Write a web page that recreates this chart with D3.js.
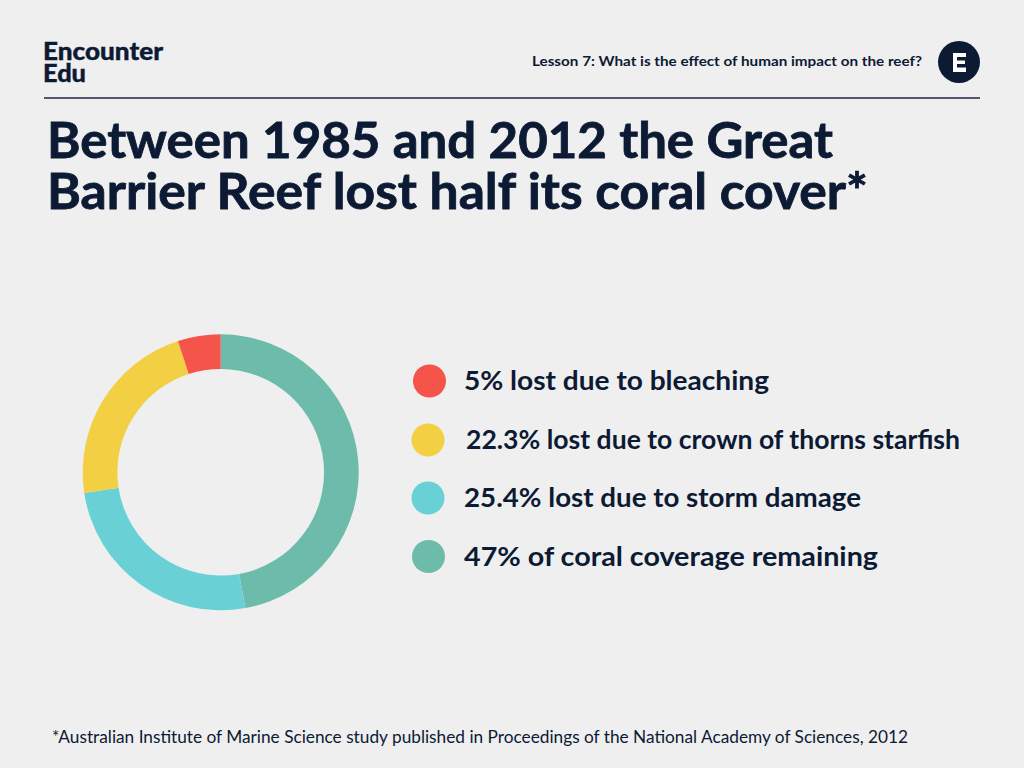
<!DOCTYPE html>
<html><head><meta charset="utf-8">
<script src="https://cdn.jsdelivr.net/npm/d3@7"></script>
<style>html,body{margin:0;padding:0;background:#efefef}svg{display:block}text{font-family:Lato,sans-serif;fill:#0c1a34}</style>
</head><body><svg id="c" width="1024" height="768"></svg>
<script>
const categories=["47% of coral coverage remaining","25.4% lost due to storm damage","22.3% lost due to crown of thorns starfish","5% lost due to bleaching"];
const values=[47,25.4,22.3,5];
const colors=["#6dbcab","#69d1d6","#f3d043","#f5544a"];
const legendOrder=[3,2,1,0];
const legendDotX=[429.5,428,428,428.5];
const legendDotY=[381,440,498,556.5];
const legendTextX=[464,466,464,464];
const legendTextW=[305,494,397,414];
const titleLines=["Between 1985 and 2012 the Great","Barrier Reef lost half its coral cover*"];
const titleWidths=[786,821];
const logoLines=["Encounter","Edu"];
const logoWidths=[120,43];
const subtitle="Lesson 7: What is the effect of human impact on the reef?";
const footnote="*Australian Institute of Marine Science study published in Proceedings of the National Academy of Sciences, 2012";
const navy="#0c1a34";
const svg=d3.select("#c");
svg.append("rect").attr("width",1024).attr("height",768).attr("fill","#efefef");

// header
svg.append("text").attr("font-size",25).attr("font-weight",900).attr("stroke",navy).attr("stroke-width",0.4)
  .selectAll("tspan").data(logoLines).join("tspan")
  .attr("x",43).attr("y",(d,i)=>60+i*22).attr("textLength",(d,i)=>logoWidths[i]).attr("lengthAdjust","spacingAndGlyphs").text(d=>d);
svg.append("text").attr("x",532).attr("y",66).attr("font-size",14).attr("font-weight",700).attr("textLength",390).attr("lengthAdjust","spacingAndGlyphs").text(subtitle);
svg.append("circle").attr("cx",959).attr("cy",62).attr("r",21).attr("fill",navy);
svg.append("path").attr("fill","#fff").attr("d","M953,53H966V57H957V60.5H965V64H957V67.5H966V72H953Z");
svg.append("line").attr("x1",44).attr("x2",980).attr("y1",98).attr("y2",98).attr("stroke","#1c2645").attr("stroke-width",1.5);

// title
svg.append("text").attr("font-size",49).attr("font-weight",700).attr("stroke",navy).attr("stroke-width",0.8)
  .selectAll("tspan").data(titleLines).join("tspan")
  .attr("x",47).attr("y",(d,i)=>158+i*51)
  .attr("textLength",(d,i)=>titleWidths[i]).attr("lengthAdjust","spacingAndGlyphs").text(d=>d);

// donut
const pie=d3.pie().sort(null).value(d=>d)(values);
const arc=d3.arc().innerRadius(103.3).outerRadius(138);
svg.append("g").attr("transform","translate(220.7,472.3)").selectAll("path").data(pie).join("path")
  .attr("d",arc).attr("fill",(d,i)=>colors[i]);

// legend
const lg=svg.append("g");
legendOrder.forEach((k,i)=>{
  lg.append("circle").attr("cx",legendDotX[i]).attr("cy",legendDotY[i]).attr("r",16.5).attr("fill",colors[k]);
  lg.append("text").attr("x",legendTextX[i]).attr("y",legendDotY[i]+9).attr("font-size",27).attr("font-weight",700)
    .attr("textLength",legendTextW[i]).attr("lengthAdjust","spacingAndGlyphs").text(categories[k]);
});

svg.append("text").attr("x",52).attr("y",743).attr("font-size",17).attr("font-weight",400).attr("textLength",856).attr("lengthAdjust","spacingAndGlyphs").text(footnote);
</script></body></html>
